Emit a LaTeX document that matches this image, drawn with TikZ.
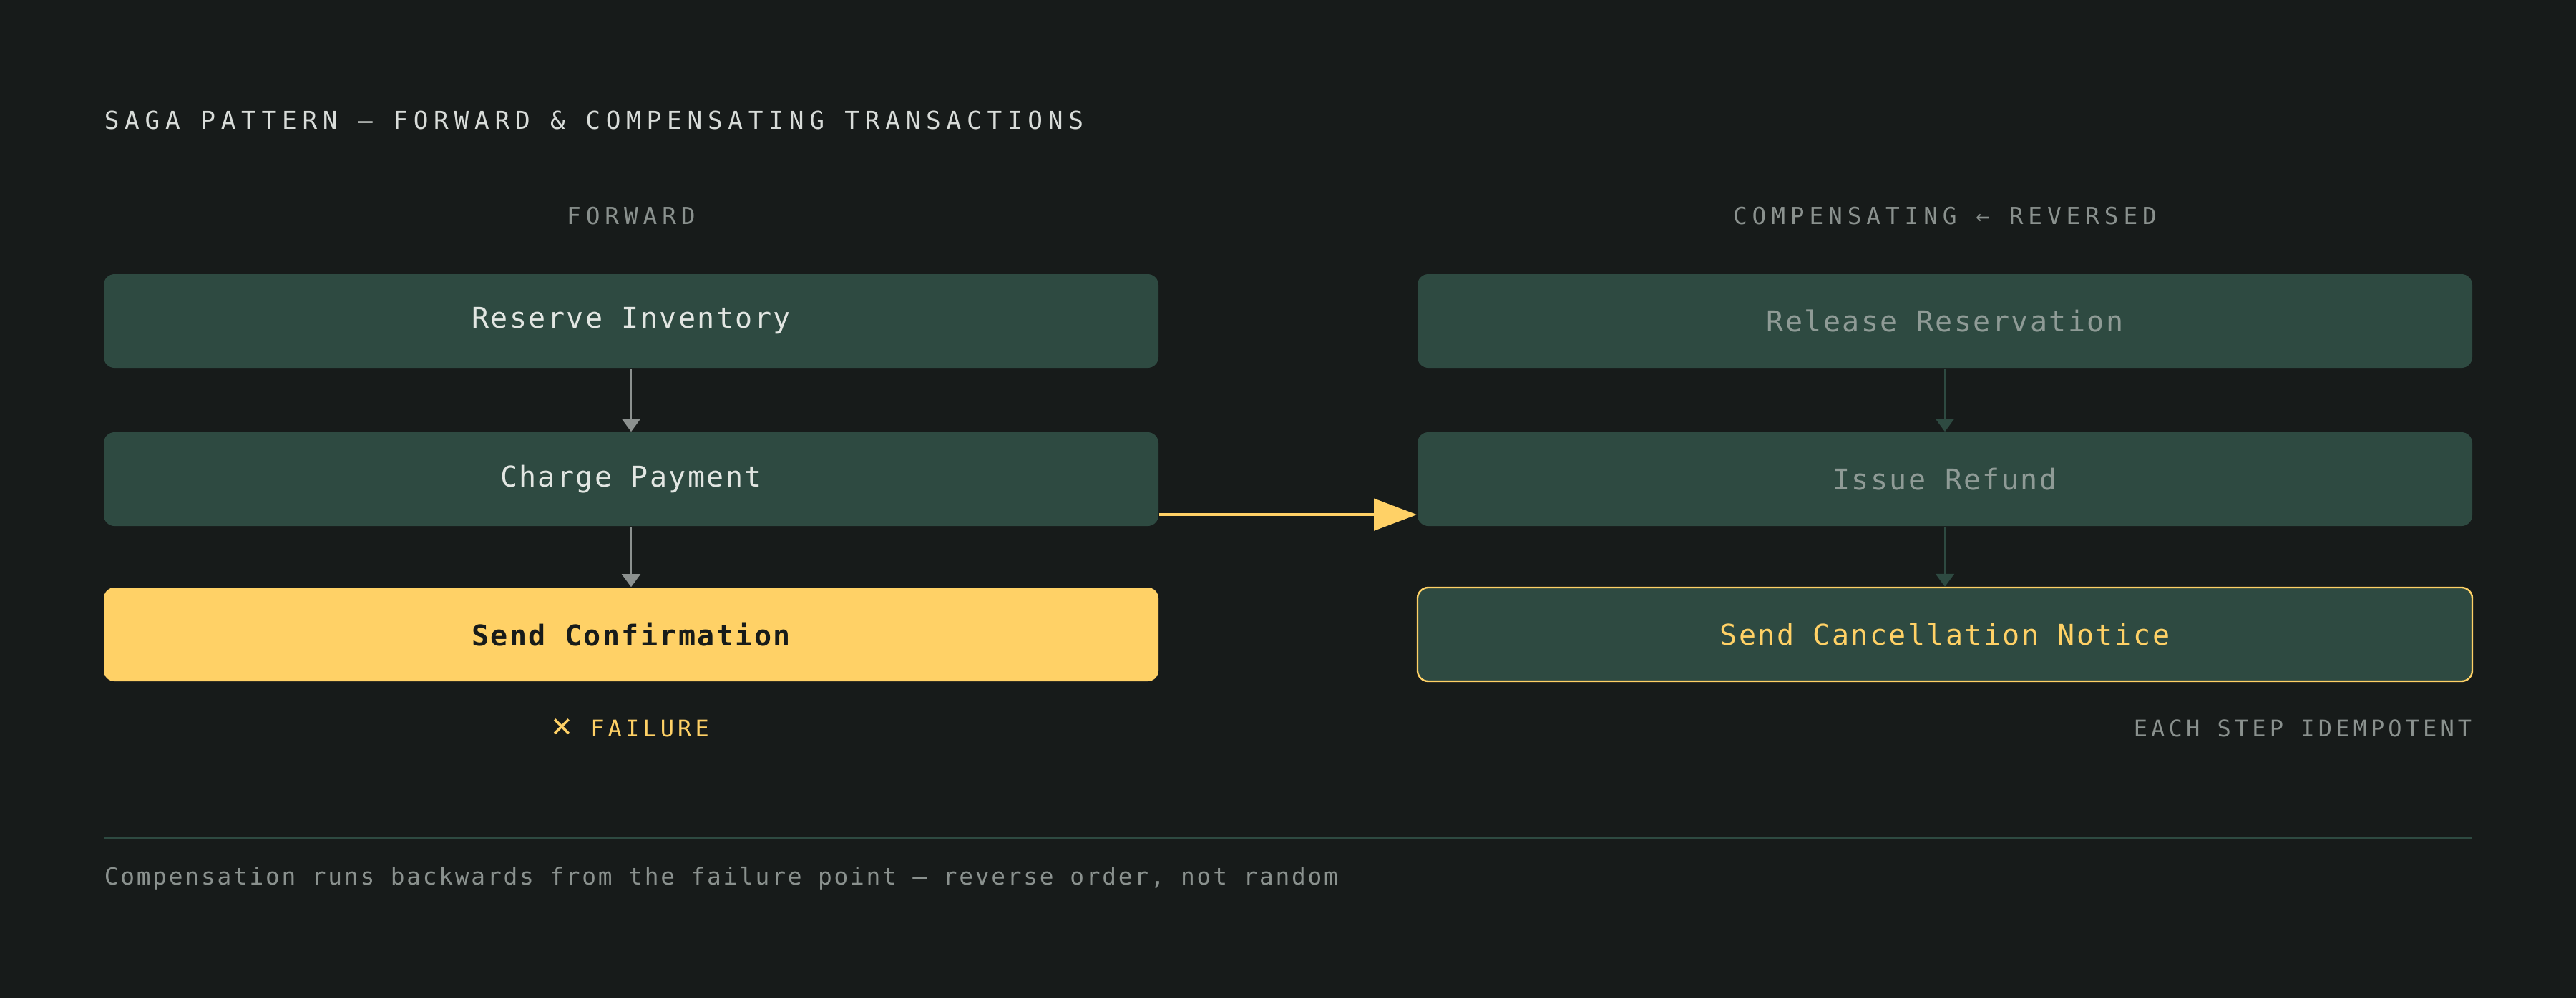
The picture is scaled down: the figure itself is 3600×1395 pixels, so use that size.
\documentclass[tikz,border=0pt]{standalone}
\usepackage{fontspec}
\setmonofont{DejaVu Sans Mono}
\newfontfamily\titlefont[LetterSpace=22.5]{DejaVu Sans Mono}
\newfontfamily\headfont[LetterSpace=21]{DejaVu Sans Mono}
\newfontfamily\labelfont[LetterSpace=16]{DejaVu Sans Mono}
\newfontfamily\boxfont[LetterSpace=6]{DejaVu Sans Mono}
\newfontfamily\notefont[LetterSpace=8.5]{DejaVu Sans Mono}
\newfontfamily\symfont{DejaVu Sans}
\usetikzlibrary{arrows.meta}

\definecolor{bgdark}{RGB}{23,27,26}
\definecolor{boxgreen}{RGB}{46,74,65}
\definecolor{sagayellow}{RGB}{255,209,102}
\definecolor{titlegray}{RGB}{216,220,217}
\definecolor{headgray}{RGB}{138,145,142}
\definecolor{lighttext}{RGB}{226,230,226}
\definecolor{dimtext}{RGB}{143,155,150}
\definecolor{linkgray}{RGB}{140,145,143}

\begin{document}
\begin{tikzpicture}[x=0.25pt,y=0.25pt,yscale=-1,xscale=1,
    stepbox/.style={rectangle, rounded corners=3.75pt, minimum width=368.5pt, minimum height=32.75pt, inner sep=0pt, fill=boxgreen, font=\boxfont\fontsize{10}{12}\selectfont},
    fwdbox/.style={stepbox, text=lighttext},
    compbox/.style={stepbox, text=dimtext},
    failbox/.style={stepbox, fill=sagayellow, text=bgdark, font=\boxfont\bfseries\fontsize{10}{12}\selectfont},
    notifybox/.style={stepbox, draw=sagayellow, line width=0.6pt, text=sagayellow},
    headlabel/.style={anchor=base, inner sep=0pt, text=headgray, font=\headfont\fontsize{8.2}{10}\selectfont},
    notelabel/.style={inner sep=0pt, font=\labelfont\fontsize{8}{10}\selectfont},
    fwdlink/.style={draw=linkgray, line width=0.5pt, -{Triangle[length=4.5pt,width=6.5pt]}},
    complink/.style={draw=boxgreen, line width=0.5pt, -{Triangle[length=4.5pt,width=6.5pt]}},
    faillink/.style={draw=sagayellow, line width=1.1pt, -{Triangle[length=15pt,width=11pt]}}]
        % background
        \fill [bgdark] (0,0) rectangle (3600,1395) ;
        \useasboundingbox (0,0) rectangle (3600,1395) ;
        % title and column heads
        \node [anchor=base west, inner sep=0pt, text=titlegray, font=\titlefont\fontsize{8.6}{10}\selectfont] (title) at (145,180) {SAGA PATTERN — FORWARD \& COMPENSATING TRANSACTIONS};
        \node [headlabel] (fwdhead) at (882,313) {FORWARD};
        \node [headlabel] (comphead) at (2718,313) {COMPENSATING ← REVERSED};
        % forward steps
        \node [fwdbox] (reserve) at (882,448.5) {Reserve Inventory};
        \node [fwdbox] (charge) at (882,669.5) {Charge Payment};
        \node [failbox] (confirm) at (882,886.5) {Send Confirmation};
        % compensating steps
        \node [compbox] (release) at (2718,448.5) {Release Reservation};
        \node [compbox] (refund) at (2718,669.5) {Issue Refund};
        \node [notifybox] (cancel) at (2718,886.5) {Send Cancellation Notice};
        % links
        \draw [fwdlink] (reserve) -- (charge) ;
        \draw [fwdlink] (charge) -- (confirm) ;
        \draw [complink] (release) -- (refund) ;
        \draw [complink] (refund) -- (cancel) ;
        \draw [faillink] ([yshift=12.4pt]charge.east) -- ([yshift=12.4pt]refund.west) ;
        % notes under the columns
        \node [notelabel, anchor=base, text=sagayellow] (failure) at (880,1029) {{\symfont\fontsize{9.5}{10}\selectfont ✕} FAILURE};
        \node [notelabel, anchor=base east, text=headgray] (idem) at (3455,1029) {EACH STEP IDEMPOTENT};
        % footer
        \draw [boxgreen, line width=0.75pt] (145,1171) -- (3455,1171) ;
        \node [anchor=base west, inner sep=0pt, text=headgray, font=\notefont\fontsize{8.2}{10}\selectfont] (footer) at (145,1236) {Compensation runs backwards from the failure point — reverse order, not random};
\end{tikzpicture}
\end{document}
